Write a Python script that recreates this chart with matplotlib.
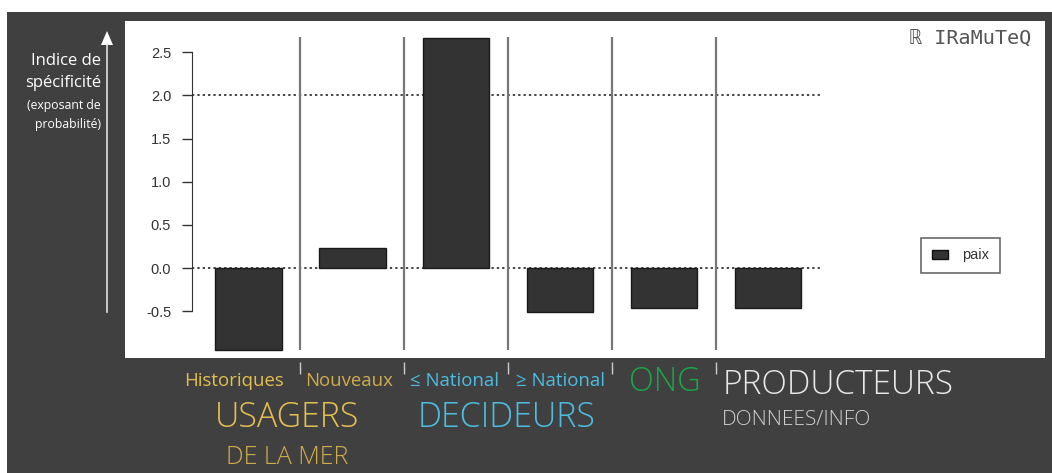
import matplotlib.pyplot as plt
from matplotlib.patches import Rectangle, Patch

W, H = 1052, 473

# specificity index per speaker group
groups = ['Historiques', 'Nouveaux', '≤ National', '≥ National', 'ONG', 'PRODUCTEURS']
paix = [-0.95, 0.23, 2.66, -0.51, -0.46, -0.46]
yticks = [-0.5, 0.0, 0.5, 1.0, 1.5, 2.0, 2.5]
ref_lines = [0.0, 2.0]

dark = '#404040'
gold = '#e3bf4f'
gold2 = '#cfac4b'
blue = '#4cbde0'
green = '#17a848'
light = '#e8e8e8'


def fx(x):
    return x / W


def fy(y):
    return 1 - y / H


fig = plt.figure(figsize=(W / 100, H / 100), dpi=100, facecolor='white')
fig.patches.append(Rectangle((fx(7), 0), 1, fy(12), transform=fig.transFigure,
                             facecolor=dark, edgecolor='none', zorder=-5))

ax = fig.add_axes([fx(125), fy(358), fx(920), (358 - 21) / H])
ax.set_zorder(2)
ax.set_facecolor('white')
for s in ['top', 'right', 'bottom']:
    ax.spines[s].set_visible(False)

x = list(range(len(paix)))
ax.bar(x, paix, width=0.64, color='#333333', edgecolor='#1a1a1a', linewidth=1, zorder=3)

ax.set_xlim(-1.19, 7.67)
ax.set_ylim(-1.04, 2.86)

ax.spines['left'].set_position(('data', -0.545))
ax.spines['left'].set_bounds(yticks[0], yticks[-1])
ax.spines['left'].set_color('#333333')
ax.set_yticks(yticks)
ax.set_yticklabels([f'{v:.1f}' for v in yticks], fontsize=10.5,
                   family='Liberation Sans', color='#333333')
ax.tick_params(axis='y', length=7, width=1, color='#333333', pad=8)
ax.set_xticks([])

for r in ref_lines:
    ax.hlines(r, -0.545, 5.53, colors='#111111', linestyles=(0, (1.5, 2)), linewidth=1.1, zorder=2)

# group separators
seps = [i + 0.5 for i in range(len(paix) - 1)]
ax.vlines(seps, min(paix), max(paix) + 0.01, colors='#777777', linewidth=1.6, zorder=4)
ax.vlines(seps, -1.09, -1.23, colors='#cccccc', linewidth=1, clip_on=False)

ax.text(0.985, 0.945, 'ℝ IRaMuTeQ', transform=ax.transAxes, ha='right', va='center',
        fontsize=14.5, family='DejaVu Sans Mono', color='#555555')

leg = ax.legend(handles=[Patch(facecolor='#333333', edgecolor='#111111', label='paix')],
                loc='center', bbox_to_anchor=(fx(960.5), fy(255.5)),
                bbox_transform=fig.transFigure, fancybox=False, edgecolor='#444444',
                handlelength=1.1, handleheight=0.6, borderpad=0.7, handletextpad=1.0,
                borderaxespad=0, prop={'family': 'Liberation Sans', 'size': 10.5})
leg.get_frame().set_linewidth(1.2)
for t in leg.get_texts():
    t.set_color('#333333')

# vertical arrow and axis caption
fig.add_artist(plt.Line2D([fx(107), fx(107)], [fy(312), fy(44)], color='#e0e0e0', linewidth=1.2))
fig.patches.append(plt.Polygon([[fx(101), fy(45)], [fx(113), fy(45)], [fx(107), fy(31)]],
                               closed=True, transform=fig.transFigure, facecolor='white',
                               edgecolor='none'))
fig.text(fx(101), fy(61), 'Indice de', ha='right', va='center', fontsize=12,
         family='Open Sans', color='white')
fig.text(fx(101), fy(83), 'spécificité', ha='right', va='center', fontsize=12,
         family='Open Sans', color='white')
fig.text(fx(101), fy(105), '(exposant de', ha='right', va='center', fontsize=8.8,
         family='Open Sans', color='white')
fig.text(fx(101), fy(124), 'probabilité)', ha='right', va='center', fontsize=8.8,
         family='Open Sans', color='white')

# group labels under the bars
fnt = 'Open Sans'
fig.text(fx(234), fy(381), groups[0], ha='center', va='center', fontsize=13.4, family=fnt, color=gold)
fig.text(fx(349), fy(381), groups[1], ha='center', va='center', fontsize=13.4, family=fnt, color=gold2)
fig.text(fx(455), fy(381), groups[2], ha='center', va='center', fontsize=13.4, family=fnt, color=blue)
fig.text(fx(561), fy(381), groups[3], ha='center', va='center', fontsize=13.4, family=fnt, color=blue)
fig.text(fx(665), fy(382), groups[4], ha='center', va='center', fontsize=23.5, family=fnt,
         color=green, fontweight='light')
fig.text(fx(723), fy(385), groups[5], ha='left', va='center', fontsize=24, family=fnt,
         color=light, fontweight='light')
fig.text(fx(287), fy(418), 'USAGERS', ha='center', va='center', fontsize=24.5, family=fnt,
         color=gold, fontweight='light')
fig.text(fx(507), fy(418), 'DECIDEURS', ha='center', va='center', fontsize=24.5, family=fnt,
         color=blue, fontweight='light')
fig.text(fx(287), fy(457), 'DE LA MER', ha='center', va='center', fontsize=18, family=fnt,
         color=gold2, fontweight='light')
fig.text(fx(796), fy(420), 'DONNEES/INFO', ha='center', va='center', fontsize=15, family=fnt,
         color='#d0d0d0', fontweight='light')

fig.savefig('out.png', dpi=100, facecolor=fig.get_facecolor())
